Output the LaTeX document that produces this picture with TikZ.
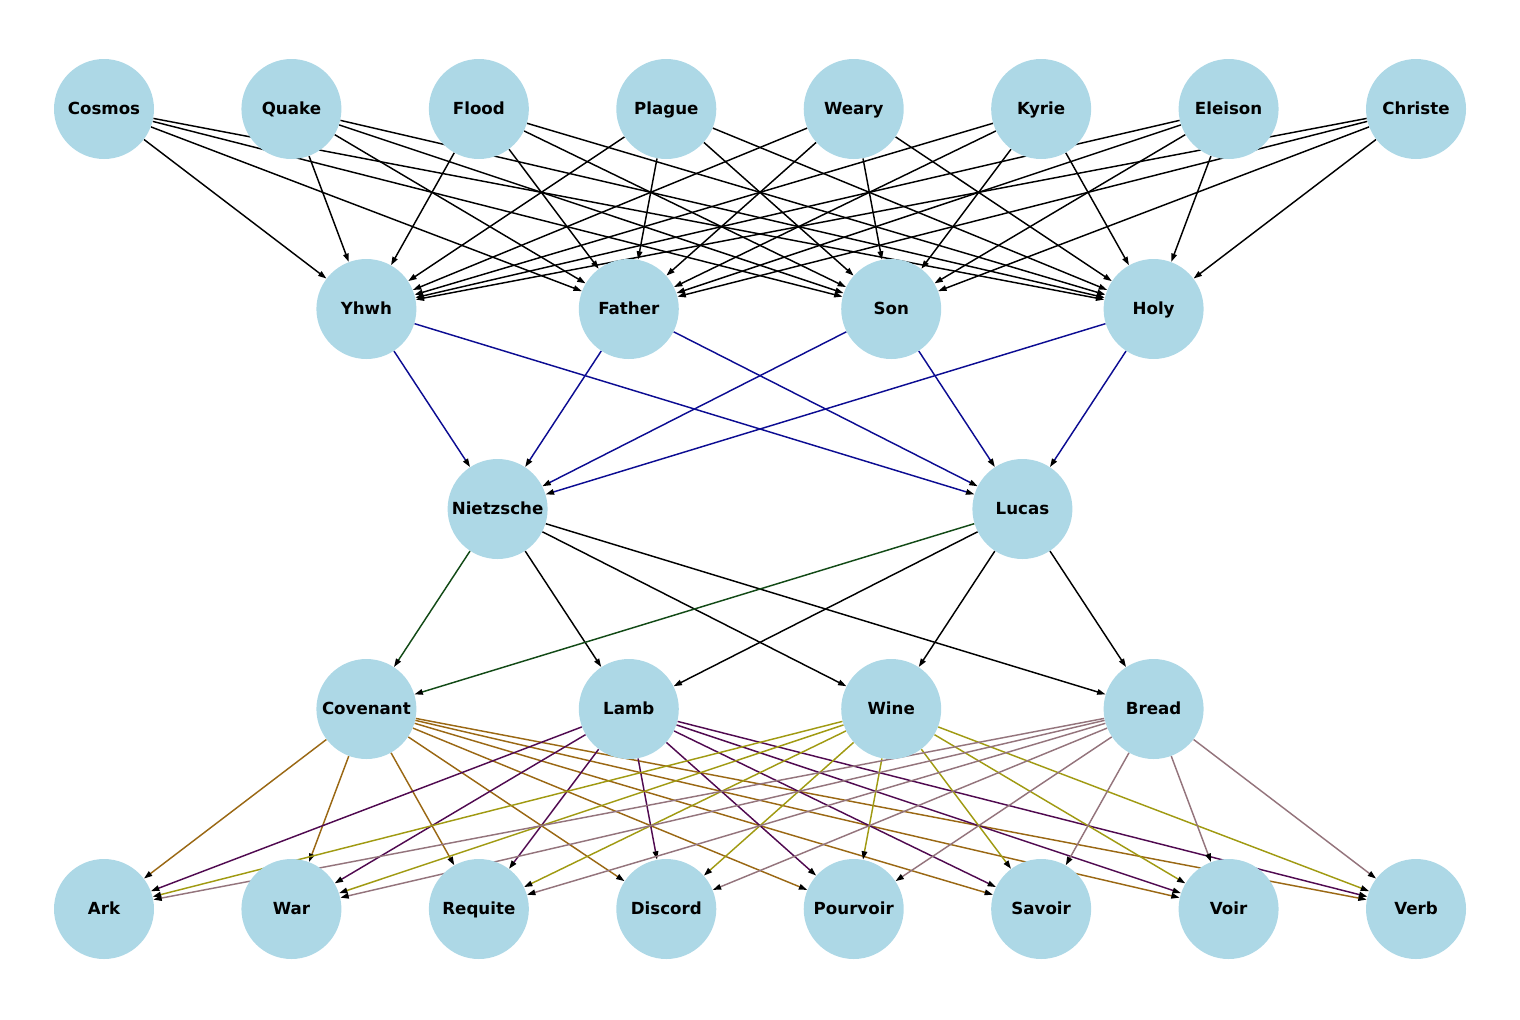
\documentclass[tikz,border=0pt]{standalone}
\usepackage{fontspec}
\setmainfont{DejaVu Sans}
\usetikzlibrary{arrows.meta,backgrounds}
\definecolor{nodefill}{HTML}{ADD8E6}
\definecolor{navy}{HTML}{0C0C92}
\definecolor{forest}{HTML}{124A16}
\definecolor{ochre}{HTML}{9A6814}
\definecolor{plum}{HTML}{500A50}
\definecolor{olive}{HTML}{A09A12}
\definecolor{rosy}{HTML}{94747C}
\tikzset{>={Triangle[length=6pt,width=4pt,color=black]},
  vert/.style={circle,fill=nodefill,minimum size=72pt,inner sep=0pt,text height=1.35ex,text depth=0pt,font=\fontsize{12}{14}\selectfont\bfseries},
  edge/.style={->,line width=1.05pt,black}}
\begin{document}
\begin{tikzpicture}[x=.72pt,y=-.72pt]
\useasboundingbox (0,0) rectangle (1520,1019);
% layers of the graph
\foreach \name [count=\i from 0] in {Cosmos,Quake,Flood,Plague,Weary,Kyrie,Eleison,Christe}{\node[vert] (\name) at ({104+187.43*\i},109) {\name};}
\foreach \name [count=\i] in {Yhwh,Father,Son,Holy}{\node[vert] (\name) at ({104+262.4*\i},309) {\name};}
\node[vert] (Nietzsche) at (497.6,509) {Nietzsche};
\node[vert] (Lucas) at (1022.4,509) {Lucas};
\foreach \name [count=\i] in {Covenant,Lamb,Wine,Bread}{\node[vert] (\name) at ({104+262.4*\i},709) {\name};}
\foreach \name [count=\i from 0] in {Ark,War,Requite,Discord,Pourvoir,Savoir,Voir,Verb}{\node[vert] (\name) at ({104+187.43*\i},909) {\name};}
% edges behind the nodes
\begin{scope}[on background layer]
\foreach \s in {Cosmos,Quake,Flood,Plague,Weary,Kyrie,Eleison,Christe}{\foreach \t in {Yhwh,Father,Son,Holy}{\draw[edge] (\s)--(\t);}}
\foreach \s in {Yhwh,Father,Son,Holy}{\foreach \t in {Nietzsche,Lucas}{\draw[edge,navy] (\s)--(\t);}}
\foreach \s in {Nietzsche,Lucas}{\draw[edge,forest] (\s)--(Covenant);\foreach \t in {Lamb,Wine,Bread}{\draw[edge] (\s)--(\t);}}
\foreach \s/\c in {Covenant/ochre,Lamb/plum,Wine/olive,Bread/rosy}{\foreach \t in {Ark,War,Requite,Discord,Pourvoir,Savoir,Voir,Verb}{\draw[edge,\c] (\s)--(\t);}}
\end{scope}
\end{tikzpicture}
\end{document}
